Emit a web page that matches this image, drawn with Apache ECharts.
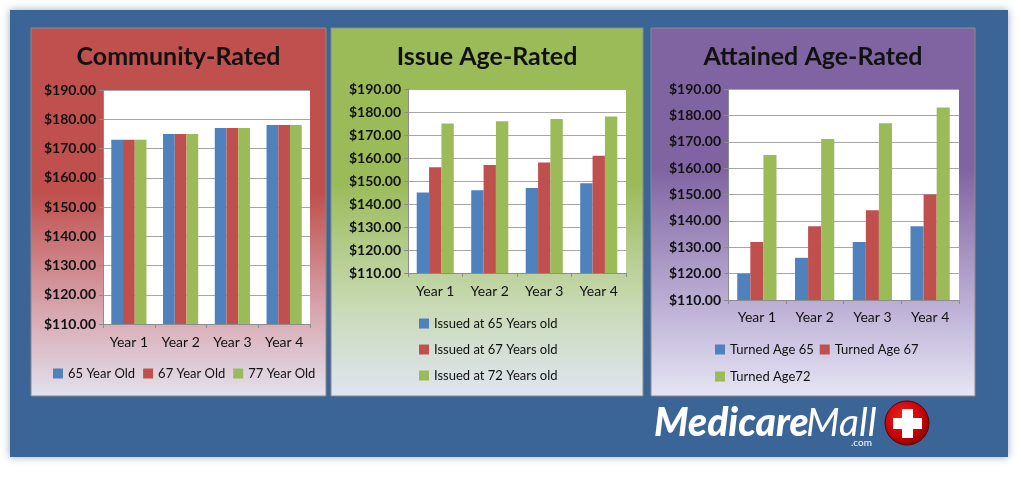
<!DOCTYPE html>
<html>
<head>
<meta charset="utf-8">
<script src="https://cdn.jsdelivr.net/npm/echarts@6/dist/echarts.min.js"></script>
<style>
html,body{margin:0;padding:0;background:#fff;}
#c{width:1021px;height:477px;}
</style>
</head>
<body>
<div id="c"></div>
<script>
// ---- data ----
var categories = ['Year 1', 'Year 2', 'Year 3', 'Year 4'];
var yTicks = [110, 120, 130, 140, 150, 160, 170, 180, 190];

var titles = ['Community-Rated', 'Issue Age-Rated', 'Attained Age-Rated'];

var community65 = [173, 175, 177, 178];
var community67 = [173, 175, 177, 178];
var community77 = [173, 175, 177, 178];

var issue65 = [145, 146, 147, 149];
var issue67 = [156, 157, 158, 161];
var issue72 = [175, 176, 177, 178];

var attained65 = [120, 126, 132, 138];
var attained67 = [132, 138, 144, 150];
var attained72 = [165, 171, 177, 183];

var names1 = ['65 Year Old', '67 Year Old', '77 Year Old'];
var names2 = ['Issued at 65 Years old', 'Issued at 67 Years old', 'Issued at 72 Years old'];
var names3 = ['Turned Age 65', 'Turned Age 67', 'Turned Age72'];

// ---- styling ----
var FONT = 'Lato, Carlito, Calibri, "Open Sans", sans-serif';
var colors = ['#4F81BD', '#C0504D', '#9BBB59'];

var chart = echarts.init(document.getElementById('c'));

var grids = [
  {left: 103, top: 90, width: 207, height: 234},
  {left: 408, top: 89, width: 218, height: 184},
  {left: 728, top: 89, width: 231, height: 211}
];
var labelMargins = [11, 11, 10];

function xAxis(i) {
  return {
    type: 'category', gridIndex: i, data: categories,
    axisLine: {show: true, lineStyle: {color: '#8c8c8c', width: 1}},
    axisTick: {show: true, length: 4, lineStyle: {color: '#8c8c8c'}},
    axisLabel: {fontFamily: FONT, fontSize: 14, color: '#111', margin: labelMargins[i]}
  };
}
function yAxis(i) {
  return {
    type: 'value', gridIndex: i,
    min: yTicks[0], max: yTicks[yTicks.length - 1], interval: yTicks[1] - yTicks[0],
    axisLine: {show: true, lineStyle: {color: '#8c8c8c', width: 1}},
    axisTick: {show: true, length: 4, lineStyle: {color: '#8c8c8c'}},
    splitLine: {show: true, lineStyle: {color: '#a6a6a6', width: 1}},
    axisLabel: {fontFamily: FONT, fontSize: 14, fontWeight: 'bold', color: '#111', margin: 7,
      formatter: function (v) { return '$' + v.toFixed(2); }}
  };
}
function bar(name, data, i, c) {
  return {
    type: 'bar', name: name, data: data, xAxisIndex: i, yAxisIndex: i,
    barGap: '0%', barCategoryGap: '32%',
    itemStyle: {color: colors[c]},
    emphasis: {disabled: true}
  };
}

function panelGrad(top, mid, bottom, s1) {
  return {type: 'linear', x: 0, y: 0, x2: 0, y2: 1, colorStops: [
    {offset: 0, color: top}, {offset: s1, color: top},
    {offset: 0.76, color: mid}, {offset: 1, color: bottom}]};
}

var panels = [
  {x: 31, w: 295, fill: panelGrad('#C0504D', '#d7a4ad', '#e3e1ee', 0.45)},
  {x: 331, w: 312, fill: panelGrad('#9BBB59', '#c9dab6', '#dfe5f1', 0.42)},
  {x: 651, w: 324, fill: panelGrad('#8064A2', '#beb1d6', '#e6e5f4', 0.38)}
];
var panelTop = 28, panelH = 368;

var graphics = [
  {type: 'rect', z: -20, shape: {x: 10, y: 10, width: 998, height: 447},
   style: {fill: '#3b6596', shadowBlur: 8, shadowColor: 'rgba(40,70,110,0.45)'}}
];
panels.forEach(function (p, i) {
  graphics.push({type: 'rect', z: -10, shape: {x: p.x, y: panelTop, width: p.w, height: panelH},
    style: {fill: p.fill, stroke: '#8a8a8a', lineWidth: 1}});
  graphics.push({type: 'text', z: 5, x: p.x + p.w / 2, y: 57,
    style: {text: titles[i], font: 'bold 25px ' + FONT, fill: '#111', align: 'center', verticalAlign: 'middle'}});
});
// logo
graphics.push({type: 'text', z: 5, x: 654, y: 423,
  style: {text: 'Medicare', font: 'italic 900 39px ' + FONT, fill: '#fff', align: 'left', verticalAlign: 'middle'}});
graphics.push({type: 'text', z: 5, x: 806, y: 423,
  style: {text: 'Mall', font: 'italic 400 39px ' + FONT, fill: '#fff', align: 'left', verticalAlign: 'middle'}});
graphics.push({type: 'text', z: 5, x: 851, y: 443,
  style: {text: '.com', font: '10px ' + FONT, fill: '#fff', align: 'left', verticalAlign: 'middle'}});
graphics.push({type: 'circle', z: 5, shape: {cx: 907, cy: 423, r: 22},
  style: {fill: {type: 'radial', x: 0.4, y: 0.35, r: 0.7, colorStops: [
    {offset: 0, color: '#f02020'}, {offset: 0.7, color: '#c00000'}, {offset: 1, color: '#7a0000'}]},
    stroke: '#5a0000', lineWidth: 1}});
graphics.push({type: 'rect', z: 6, shape: {x: 902, y: 409, width: 11, height: 29}, style: {fill: '#fff'}});
graphics.push({type: 'rect', z: 6, shape: {x: 893, y: 418, width: 29, height: 11}, style: {fill: '#fff'}});

var legendText = {fontFamily: FONT, fontSize: 13, color: '#111'};
var option = {
  animation: false,
  textStyle: {fontFamily: FONT},
  color: colors,
  graphic: graphics,
  grid: grids.map(function (g) {
    return {left: g.left, top: g.top, width: g.width, height: g.height,
      show: true, backgroundColor: '#fff', borderWidth: 0, containLabel: false};
  }),
  xAxis: [xAxis(0), xAxis(1), xAxis(2)],
  yAxis: [yAxis(0), yAxis(1), yAxis(2)],
  legend: [
    {data: names1, orient: 'horizontal', left: 53, top: 367, itemWidth: 10, itemHeight: 10, itemGap: 8,
     icon: 'rect', textStyle: legendText, selectedMode: false, padding: 0},
    {data: names2, orient: 'vertical', left: 419, top: 317, itemWidth: 10, itemHeight: 10, itemGap: 13,
     icon: 'rect', textStyle: legendText, selectedMode: false, padding: 0},
    {data: [names3[0], names3[1]], orient: 'horizontal', left: 715, top: 343, itemWidth: 10, itemHeight: 10, itemGap: 6,
     icon: 'rect', textStyle: legendText, selectedMode: false, padding: 0},
    {data: [names3[2]], orient: 'horizontal', left: 715, top: 370, itemWidth: 10, itemHeight: 10, itemGap: 6,
     icon: 'rect', textStyle: legendText, selectedMode: false, padding: 0}
  ],
  series: [
    bar(names1[0], community65, 0, 0), bar(names1[1], community67, 0, 1), bar(names1[2], community77, 0, 2),
    bar(names2[0], issue65, 1, 0), bar(names2[1], issue67, 1, 1), bar(names2[2], issue72, 1, 2),
    bar(names3[0], attained65, 2, 0), bar(names3[1], attained67, 2, 1), bar(names3[2], attained72, 2, 2)
  ]
};
chart.setOption(option);
</script>
</body>
</html>
